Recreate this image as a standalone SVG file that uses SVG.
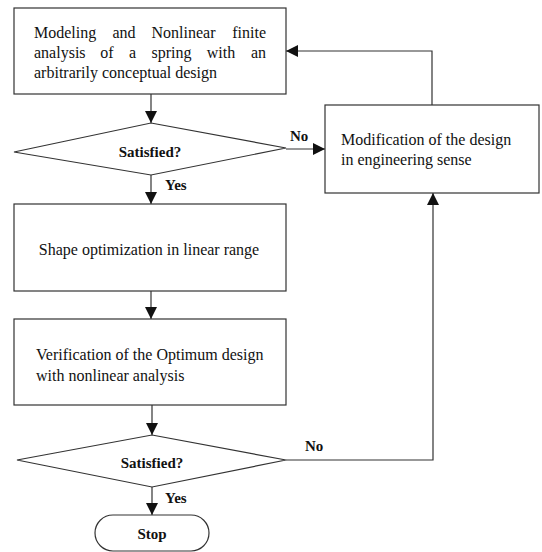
<svg xmlns="http://www.w3.org/2000/svg" width="542" height="552" viewBox="0 0 542 552">
<defs>
<style>
.s{fill:none;stroke:#333;stroke-width:1.2}
.b{fill:#fff;stroke:#333;stroke-width:1.2}
.t{font-family:"Liberation Serif","Times New Roman",serif;font-size:16px;fill:#111}
.l{font-family:"Liberation Serif","Times New Roman",serif;font-size:15px;font-weight:bold;fill:#111}
.m{text-anchor:middle}
.e{text-anchor:end}
</style>
<marker id="ah" viewBox="0 0 12 12" refX="12" refY="6" markerWidth="12" markerHeight="12" markerUnits="userSpaceOnUse" orient="auto">
<path d="M0,0 L12,6 L0,12 Z" fill="#111"/>
</marker>
</defs>
<rect width="542" height="552" fill="#fff"/>
<g id="connectors">
<line class="s" x1="151" y1="94" x2="151" y2="123" marker-end="url(#ah)"/>
<line class="s" x1="286" y1="149" x2="325" y2="149" marker-end="url(#ah)"/>
<polyline class="s" points="432,105 432,51 286,51" marker-end="url(#ah)"/>
<line class="s" x1="151" y1="175" x2="151" y2="204" marker-end="url(#ah)"/>
<line class="s" x1="151" y1="291" x2="151" y2="319" marker-end="url(#ah)"/>
<line class="s" x1="152" y1="405" x2="152" y2="435" marker-end="url(#ah)"/>
<line class="s" x1="152" y1="487" x2="152" y2="515" marker-end="url(#ah)"/>
<polyline class="s" points="286,460 433,460 433,193" marker-end="url(#ah)"/>
<text class="l" x="290" y="141">No</text>
<text class="l" x="165" y="190">Yes</text>
<text class="l" x="305" y="451">No</text>
<text class="l" x="165" y="503">Yes</text>
</g>
<g id="n1">
<rect class="b" x="14" y="8" width="272" height="86"/>
<text class="t" x="34" y="38">Modeling</text>
<text class="t m" x="124" y="38">and</text>
<text class="t m" x="183.5" y="38">Nonlinear</text>
<text class="t e" x="266" y="38">finite</text>
<text class="t" x="34" y="58">analysis</text>
<text class="t m" x="107" y="58">of</text>
<text class="t m" x="132.5" y="58">a</text>
<text class="t m" x="171.5" y="58">spring</text>
<text class="t m" x="221" y="58">with</text>
<text class="t e" x="266" y="58">an</text>
<text class="t" x="34" y="78">arbitrarily conceptual design</text>
</g>
<g id="d1">
<polygon class="b" points="151,123 286,148 151,175 14,152"/>
<text class="l m" x="150" y="157">Satisfied?</text>
</g>
<g id="n2">
<rect class="b" x="325" y="105" width="214" height="88"/>
<text class="t" x="341" y="145">Modification of the design</text>
<text class="t" x="341" y="165">in engineering sense</text>
</g>
<g id="n3">
<rect class="b" x="14" y="204" width="272" height="87"/>
<text class="t m" x="149" y="255">Shape optimization in linear range</text>
</g>
<g id="n4">
<rect class="b" x="14" y="319" width="272" height="86"/>
<text class="t" x="36" y="360">Verification of the Optimum design</text>
<text class="t" x="36" y="381">with nonlinear analysis</text>
</g>
<g id="d2">
<polygon class="b" points="152,435 286,460 152,487 17,460"/>
<text class="l m" x="152" y="468">Satisfied?</text>
</g>
<g id="stop">
<rect class="b" x="95" y="515" width="114" height="36" rx="18" ry="18"/>
<text class="l m" x="152" y="539">Stop</text>
</g>
</svg>
